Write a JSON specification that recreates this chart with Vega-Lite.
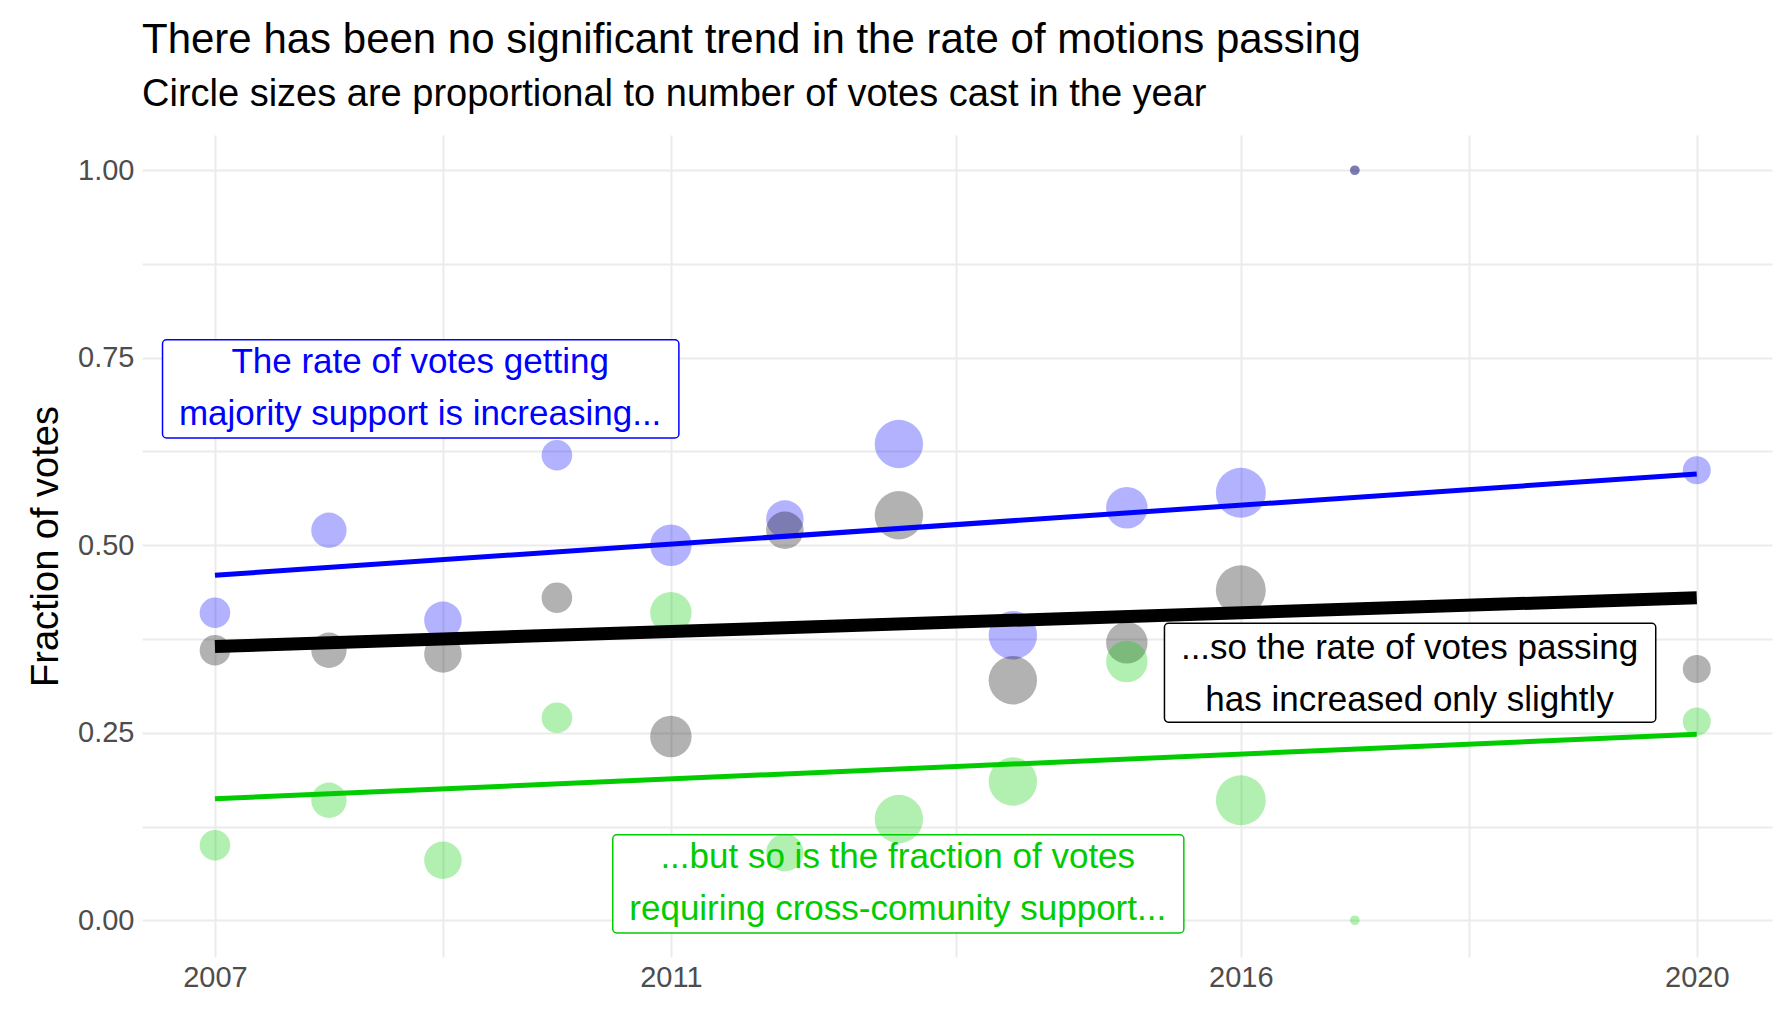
{
"$schema":"https://vega.github.io/schema/vega-lite/v6.json",
"width":1630,"height":822,
"autosize":{"type":"none"},
"padding":{"left":142,"top":135,"right":20,"bottom":67},
"background":"white",
"title":{"text":"There has been no significant trend in the rate of motions passing","subtitle":"Circle sizes are proportional to number of votes cast in the year","anchor":"start","frame":"group","font":"Liberation Sans","fontSize":42,"fontWeight":"normal","color":"#000","subtitleFont":"Liberation Sans","subtitleFontSize":38,"subtitleColor":"#000","subtitlePadding":14,"offset":20},
"config":{"view":{"stroke":null},"axis":{"domain":false,"ticks":false,"gridColor":"#ebebeb","gridWidth":2,"labelFont":"Liberation Sans","labelFontSize":29,"labelColor":"#4d4d4d","titleFont":"Liberation Sans","titleFontSize":38,"titleFontWeight":"normal","titleColor":"#000"}},
"datasets":{
"pts":[
{"year":2007,"votes":30,"series":"maj","value":0.41},{"year":2008,"votes":40,"series":"maj","value":0.52},{"year":2009,"votes":45,"series":"maj","value":0.40},{"year":2010,"votes":30,"series":"maj","value":0.62},{"year":2011,"votes":55,"series":"maj","value":0.50},{"year":2012,"votes":45,"series":"maj","value":0.535},{"year":2013,"votes":75,"series":"maj","value":0.635},{"year":2014,"votes":75,"series":"maj","value":0.38},{"year":2015,"votes":55,"series":"maj","value":0.55},{"year":2016,"votes":80,"series":"maj","value":0.57},{"year":2017,"votes":3,"series":"maj","value":1.0},{"year":2020,"votes":25,"series":"maj","value":0.60},
{"year":2007,"votes":30,"series":"pass","value":0.36},{"year":2008,"votes":40,"series":"pass","value":0.36},{"year":2009,"votes":45,"series":"pass","value":0.355},{"year":2010,"votes":30,"series":"pass","value":0.43},{"year":2011,"votes":55,"series":"pass","value":0.245},{"year":2012,"votes":45,"series":"pass","value":0.52},{"year":2013,"votes":75,"series":"pass","value":0.54},{"year":2014,"votes":75,"series":"pass","value":0.32},{"year":2015,"votes":55,"series":"pass","value":0.37},{"year":2016,"votes":80,"series":"pass","value":0.44},{"year":2017,"votes":3,"series":"pass","value":1.0},{"year":2020,"votes":25,"series":"pass","value":0.335},
{"year":2007,"votes":30,"series":"cross","value":0.10},{"year":2008,"votes":40,"series":"cross","value":0.16},{"year":2009,"votes":45,"series":"cross","value":0.08},{"year":2010,"votes":30,"series":"cross","value":0.27},{"year":2011,"votes":55,"series":"cross","value":0.41},{"year":2012,"votes":45,"series":"cross","value":0.09},{"year":2013,"votes":75,"series":"cross","value":0.135},{"year":2014,"votes":75,"series":"cross","value":0.185},{"year":2015,"votes":55,"series":"cross","value":0.345},{"year":2016,"votes":80,"series":"cross","value":0.16},{"year":2017,"votes":3,"series":"cross","value":0.0},{"year":2020,"votes":25,"series":"cross","value":0.265}
],
"trend":[
{"year":2007,"series":"maj","value":0.46},{"year":2020,"series":"maj","value":0.595},
{"year":2007,"series":"pass","value":0.365},{"year":2020,"series":"pass","value":0.43},
{"year":2007,"series":"cross","value":0.162},{"year":2020,"series":"cross","value":0.248}
],
"boxes":[
{"x1":2006.54,"x2":2011.07,"y1":0.774,"y2":0.643,"series":"maj"},
{"x1":2015.33,"x2":2019.64,"y1":0.396,"y2":0.264,"series":"pass"},
{"x1":2010.49,"x2":2015.5,"y1":0.114,"y2":-0.017,"series":"cross"}
],
"labels":[
{"x":2008.8,"y":0.744,"series":"maj","text":"The rate of votes getting"},
{"x":2008.8,"y":0.675,"series":"maj","text":"majority support is increasing..."},
{"x":2017.48,"y":0.363,"series":"pass","text":"...so the rate of votes passing"},
{"x":2017.48,"y":0.294,"series":"pass","text":"has increased only slightly"},
{"x":2012.99,"y":0.084,"series":"cross","text":"...but so is the fraction of votes"},
{"x":2012.99,"y":0.015,"series":"cross","text":"requiring cross-comunity support..."}
]
},
"encoding":{
"x":{"field":"year","type":"quantitative","scale":{"domain":[2006.36,2020.66],"nice":false,"zero":false},"axis":{"title":null,"values":[2007,2009,2011,2013.5,2016,2018,2020],"labelExpr":"indexof([2007,2011,2016,2020],datum.value)>=0 ? datum.value : ''","format":"d","labelPadding":6}},
"y":{"field":"value","type":"quantitative","scale":{"domain":[-0.049,1.047],"nice":false,"zero":false},"axis":{"title":"Fraction of votes","values":[0,0.125,0.25,0.375,0.5,0.625,0.75,0.875,1],"labelExpr":"indexof([0,0.25,0.5,0.75,1],datum.value)>=0 ? format(datum.value,'.2f') : ''","labelPadding":8,"titlePadding":12}}
},
"layer":[
{"data":{"name":"boxes"},"mark":{"type":"rect","fill":"white","strokeWidth":1.5,"cornerRadius":4},
"encoding":{"x":{"field":"x1","type":"quantitative"},"x2":{"field":"x2"},"y":{"field":"y1","type":"quantitative"},"y2":{"field":"y2"},"stroke":{"field":"series","type":"nominal","scale":{"domain":["maj","pass","cross"],"range":["#0000ff","#000000","#00cc00"]},"legend":null}}},
{"data":{"name":"pts"},"mark":{"type":"circle","opacity":0.3},
"encoding":{"size":{"field":"votes","type":"quantitative","scale":{"domain":[0,80],"range":[0,2500],"zero":true},"legend":null},
"color":{"field":"series","type":"nominal","scale":{"domain":["maj","pass","cross"],"range":["#0000ff","#000000","#00cc00"]},"legend":null}}},
{"data":{"name":"trend"},"transform":[{"filter":"datum.series!='pass'"}],"mark":{"type":"line","strokeWidth":5},
"encoding":{"detail":{"field":"series"},"color":{"field":"series","type":"nominal","legend":null}}},
{"data":{"name":"trend"},"transform":[{"filter":"datum.series=='pass'"}],"mark":{"type":"line","strokeWidth":13,"color":"#000"},"encoding":{}},
{"data":{"name":"labels"},"mark":{"type":"text","font":"Liberation Sans","fontSize":35,"align":"center","baseline":"middle"},
"encoding":{"x":{"field":"x","type":"quantitative"},"y":{"field":"y","type":"quantitative"},"text":{"field":"text"},"color":{"field":"series","type":"nominal","legend":null}}}
],
"resolve":{"scale":{"color":"shared"}}
}
